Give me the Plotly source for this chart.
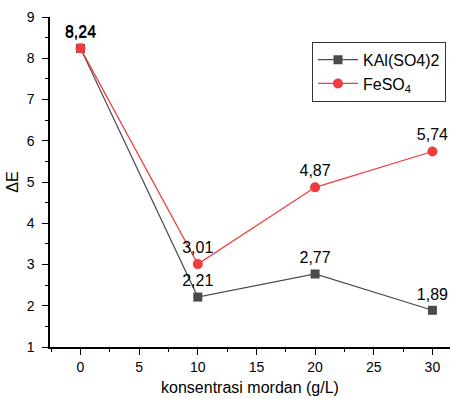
import plotly.graph_objects as go

x_vals = [0, 10, 20, 30]
kal_vals = [8.24, 2.21, 2.77, 1.89]
fe_vals = [8.24, 3.01, 4.87, 5.74]
kal_labels = ["8,24", "2,21", "2,77", "1,89"]
fe_labels = ["8,24", "3,01", "4,87", "5,74"]

GRAY = "#4a4a4a"
RED = "#f03c3c"
FONT = "Liberation Sans, Arial, sans-serif"

fig = go.Figure()
fig.add_trace(go.Scatter(
    x=x_vals, y=kal_vals, name="KAl(SO4)2", mode="lines+markers+text",
    line=dict(color=GRAY, width=1.2),
    marker=dict(symbol="square", size=9, color=GRAY),
    text=kal_labels, textposition="top center",
    textfont=dict(family=FONT, size=16, color="black"),
))
fig.add_trace(go.Scatter(
    x=x_vals, y=fe_vals, name="FeSO<sub>4</sub>", mode="lines+markers+text",
    line=dict(color=RED, width=1.2),
    marker=dict(symbol="circle", size=10, color=RED),
    text=fe_labels, textposition="top center",
    textfont=dict(family=FONT, size=16, color="black"),
))

fig.update_layout(
    width=456, height=399,
    margin=dict(l=50, r=6, t=17, b=52, autoexpand=False),
    paper_bgcolor="white", plot_bgcolor="white",
    font=dict(family=FONT, size=13, color="black"),
    showlegend=True,
    legend=dict(
        x=0.99, y=0.925, xanchor="right", yanchor="top",
        bordercolor="#333333", borderwidth=1, bgcolor="white",
        font=dict(family=FONT, size=16, color="black"),
        itemwidth=40, tracegroupgap=0,
    ),
    xaxis=dict(
        range=[-2.6, 31.5], tickmode="linear", tick0=0, dtick=5,
        showline=True, linecolor="black", linewidth=1.5,
        ticks="outside", ticklen=6, tickwidth=1.2, tickcolor="black",
        minor=dict(ticks="outside", ticklen=3, dtick=2.5, tick0=0, tickcolor="black", tickwidth=1),
        showgrid=False, zeroline=False,
        title=dict(text="konsentrasi mordan (g/L)", font=dict(size=16), standoff=8),
        tickfont=dict(size=14),
    ),
    yaxis=dict(
        range=[1, 9], tickmode="linear", tick0=1, dtick=1,
        showline=True, linecolor="black", linewidth=1.5,
        ticks="outside", ticklen=6, tickwidth=1.2, tickcolor="black",
        ticklabelstandoff=5,
        minor=dict(ticks="outside", ticklen=3, dtick=0.5, tick0=1, tickcolor="black", tickwidth=1),
        showgrid=False, zeroline=False,
        title=dict(text="ΔE", font=dict(size=16), standoff=4),
        tickfont=dict(size=14),
    ),
)

fig.write_html("out.html")
